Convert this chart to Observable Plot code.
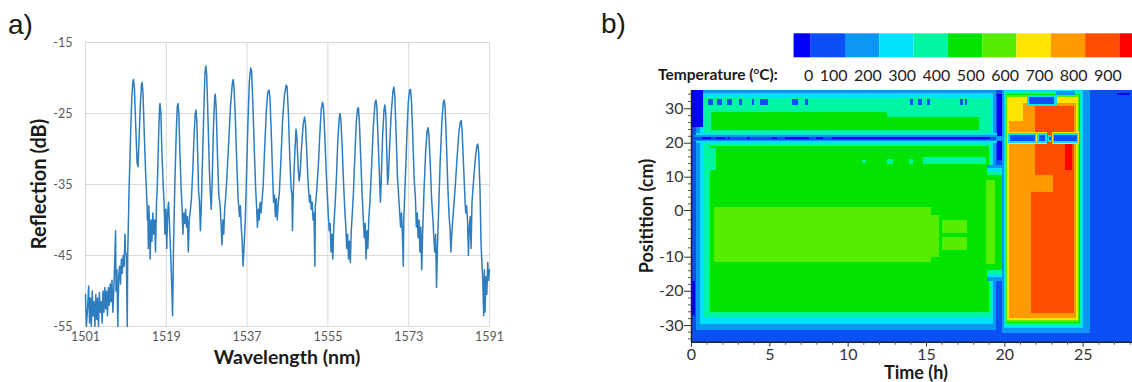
<!DOCTYPE html>
<html><head><meta charset="utf-8">
<script src="https://cdn.jsdelivr.net/npm/d3@7"></script>
<script src="https://cdn.jsdelivr.net/npm/@observablehq/plot@0.6"></script>
<style>
html,body{margin:0;padding:0;background:#fff;}
body{width:1132px;height:382px;overflow:hidden;position:relative;font-family:Lato,sans-serif;}
.abs{position:absolute;}
svg{max-width:none !important;}
</style></head><body>
<div id="pa" class="abs" style="left:0;top:0;width:520px;height:382px"></div>
<div id="pb" class="abs" style="left:580px;top:0;width:552px;height:382px;overflow:hidden"></div>
<div id="cb" class="abs" style="left:0;top:0;width:1132px;height:90px"></div>
<svg class="abs" style="left:0;top:0" width="1132" height="382">
  <g fill="#1a1a1a">
    <text x="8" y="34" font-family="Liberation Sans, Arial, sans-serif" font-size="28">a)</text>
    <text x="601" y="33" font-family="Liberation Sans, Arial, sans-serif" font-size="28">b)</text>
    <g font-family="Lato, sans-serif" font-weight="bold">
      <text transform="translate(46,184) rotate(-90)" text-anchor="middle" font-size="20">Reflection (dB)</text>
      <text x="287" y="364" text-anchor="middle" font-size="19.5">Wavelength (nm)</text>
      <text transform="translate(653,216) rotate(-90)" text-anchor="middle" font-size="18">Positition (cm)</text>
      <text x="916" y="379" text-anchor="middle" font-size="18">Time (h)</text>
      <text x="658" y="80" font-size="15.5">Temperature (<tspan font-size="10" dy="-6">o</tspan><tspan dy="6">C):</tspan></text>
    </g>
  </g>
</svg>
<script>
// ---------- panel a: reflection spectrum ----------
const wavelengthTicks = [1501, 1519, 1537, 1555, 1573, 1591];
const reflectionTicks = [-15, -25, -35, -45, -55];
const spectrum = [
[1501.0,-50.5],[1501.2,-55],[1501.5,-52],[1501.7,-49.3],[1501.9,-54.5],[1502.1,-51],[1502.3,-55],[1502.5,-50],[1502.7,-53.5],[1502.9,-51.5],
[1503.1,-55],[1503.3,-50.5],[1503.5,-54],[1503.7,-51],[1503.9,-55],[1504.1,-50.2],[1504.3,-53],[1504.5,-51.5],[1504.7,-54.5],[1504.9,-50],
[1505.1,-53],[1505.3,-49.5],[1505.5,-52.5],[1505.7,-50],[1505.9,-53.5],[1506.1,-49.5],[1506.3,-52],[1506.5,-49],[1506.7,-51.5],[1506.9,-48.5],
[1507.1,-53],[1507.3,-50],[1507.5,-46],[1507.7,-41.5],[1507.8,-50],[1508.0,-47],[1508.2,-55],[1508.4,-48],[1508.6,-46.5],[1508.8,-49],
[1509.0,-45.5],[1509.2,-47.5],[1509.4,-45],[1509.6,-46.5],[1509.8,-42],[1509.9,-44.5],[1510.1,-45],[1510.3,-55],[1510.4,-45],[1510.7,-36],
[1511.0,-29],[1511.3,-23],[1511.55,-20.5],[1511.7,-20.2],[1511.9,-21.5],[1512.2,-27],[1512.5,-32],[1512.7,-32.5],[1512.9,-29],[1513.2,-24],
[1513.45,-21],[1513.6,-20.6],[1513.8,-22],[1514.1,-28],[1514.4,-33.5],[1514.7,-37.5],[1514.8,-40],[1514.9,-39],[1515.0,-44],[1515.1,-38],
[1515.3,-41.5],[1515.4,-45.5],[1515.6,-40],[1515.8,-43],[1516.0,-39],[1516.2,-42],[1516.4,-40],[1516.6,-44.5],[1516.8,-38],[1517.0,-35],
[1517.3,-28],[1517.5,-24],[1517.6,-23.6],[1517.8,-25],[1518.0,-30],[1518.3,-35],[1518.5,-37.5],[1518.7,-42],[1518.9,-38.5],[1519.1,-44],
[1519.3,-39],[1519.5,-37.5],[1519.8,-42],[1520.1,-47],[1520.4,-53.5],[1520.6,-44],[1520.9,-35],[1521.2,-28],[1521.45,-24],[1521.6,-23.6],
[1521.8,-25],[1522.0,-30],[1522.3,-35.5],[1522.5,-38],[1522.7,-42],[1522.9,-39],[1523.1,-40.5],[1523.3,-38.5],[1523.5,-41],[1523.7,-39.5],
[1523.9,-44.5],[1524.1,-40],[1524.3,-39],[1524.6,-37],[1524.9,-33],[1525.2,-28],[1525.45,-25],[1525.6,-24.5],[1525.8,-26],[1526.0,-31],
[1526.2,-36],[1526.4,-37.5],[1526.6,-41.5],[1526.8,-38],[1527.0,-33],[1527.3,-26],[1527.6,-19.5],[1527.8,-18.3],[1528.0,-19.5],[1528.3,-26],
[1528.6,-33],[1528.8,-36],[1529.0,-38.5],[1529.2,-35],[1529.5,-27],[1529.8,-22.5],[1529.9,-22.3],[1530.1,-24],[1530.4,-31],[1530.7,-36.5],
[1531.0,-38],[1531.2,-40.5],[1531.4,-43.5],[1531.6,-40],[1531.8,-42],[1532.0,-38.5],[1532.2,-37],[1532.5,-34],[1532.9,-29],[1533.3,-24],
[1533.7,-20.8],[1533.9,-20.2],[1534.1,-21.5],[1534.4,-26],[1534.7,-32],[1535.0,-37],[1535.3,-39.5],[1535.5,-38],[1535.7,-41],[1535.9,-43],
[1536.1,-46.5],[1536.3,-44],[1536.6,-40],[1536.9,-33],[1537.2,-26],[1537.5,-20.5],[1537.8,-18.6],[1538.0,-19],[1538.3,-24],[1538.6,-30],
[1538.9,-35.5],[1539.1,-38],[1539.3,-41],[1539.5,-38.5],[1539.7,-40],[1539.9,-37.5],[1540.1,-39],[1540.3,-37.5],[1540.6,-35],[1540.9,-30],
[1541.3,-24.5],[1541.6,-22],[1541.9,-21.7],[1542.1,-23],[1542.4,-28],[1542.7,-34],[1542.9,-37.5],[1543.1,-36.5],[1543.3,-39.5],[1543.5,-37],
[1543.7,-40],[1543.9,-38],[1544.2,-36],[1544.5,-32],[1544.9,-26],[1545.3,-22.5],[1545.7,-21],[1545.9,-21.2],[1546.2,-25],[1546.5,-31],
[1546.8,-35.5],[1547.0,-36.5],[1547.1,-41.5],[1547.3,-36],[1547.6,-31],[1547.9,-27.2],[1548.1,-28.5],[1548.4,-33],[1548.6,-34.5],[1548.8,-33.5],
[1549.1,-30],[1549.5,-26.5],[1549.8,-25.5],[1550.0,-26.5],[1550.3,-30.5],[1550.6,-35],[1550.9,-37.5],[1551.1,-36.5],[1551.3,-38.5],[1551.5,-37.5],
[1551.7,-40],[1551.9,-39],[1552.1,-46.5],[1552.2,-38],[1552.5,-36],[1552.9,-32],[1553.2,-28],[1553.5,-24.5],[1553.8,-23.4],[1554.0,-24],
[1554.3,-28],[1554.6,-33],[1554.9,-37],[1555.1,-39.5],[1555.3,-41.5],[1555.5,-40.5],[1555.7,-44.5],[1555.9,-42],[1556.1,-45.5],[1556.3,-41],
[1556.6,-38],[1556.9,-34],[1557.2,-29],[1557.5,-25.8],[1557.7,-25],[1557.9,-26],[1558.2,-30],[1558.5,-35],[1558.8,-39],[1559.0,-41],
[1559.2,-44],[1559.4,-42],[1559.6,-45.5],[1559.8,-43],[1560.0,-46],[1560.2,-41.5],[1560.4,-39.5],[1560.7,-36],[1561.0,-31],[1561.3,-26.5],
[1561.6,-24.3],[1561.8,-24.2],[1562.0,-26],[1562.3,-31],[1562.6,-36],[1562.9,-40],[1563.1,-42.5],[1563.3,-40.5],[1563.5,-45.5],[1563.7,-41.5],
[1563.9,-44],[1564.1,-40],[1564.4,-37],[1564.7,-33],[1565.1,-27],[1565.5,-23.5],[1565.7,-23.1],[1565.9,-24],[1566.2,-29],[1566.5,-34],
[1566.7,-37.5],[1566.9,-34],[1567.2,-28],[1567.5,-24.5],[1567.7,-23.8],[1567.9,-25],[1568.1,-30],[1568.3,-35],[1568.5,-33.5],[1568.8,-29],
[1569.1,-25],[1569.5,-21.8],[1569.7,-21.3],[1569.9,-22.5],[1570.2,-28],[1570.5,-34],[1570.8,-37],[1571.0,-39],[1571.2,-41],[1571.4,-39],
[1571.6,-42],[1571.8,-46.5],[1571.9,-40],[1572.2,-35],[1572.6,-28],[1572.9,-23.5],[1573.2,-21.7],[1573.4,-21.6],[1573.6,-23],[1573.9,-28],
[1574.2,-34],[1574.5,-37],[1574.7,-41],[1574.9,-39],[1575.1,-42.5],[1575.3,-40],[1575.5,-44.5],[1575.7,-41],[1575.9,-47],[1576.1,-42],
[1576.4,-36],[1576.8,-30],[1577.1,-27.5],[1577.3,-27],[1577.5,-28],[1577.8,-32],[1578.1,-37],[1578.4,-40],[1578.6,-42.5],[1578.8,-44.5],
[1579.0,-42],[1579.2,-49.5],[1579.4,-44],[1579.7,-38],[1580.0,-32],[1580.4,-26],[1580.7,-23.5],[1580.9,-23.1],[1581.1,-24],[1581.4,-29],
[1581.7,-35],[1582.0,-39.5],[1582.2,-41],[1582.4,-44.5],[1582.6,-42],[1582.8,-40],[1583.0,-38.5],[1583.4,-35],[1583.8,-31],[1584.2,-27.5],
[1584.5,-26.2],[1584.7,-26],[1584.9,-27.5],[1585.2,-32],[1585.5,-36.5],[1585.7,-39],[1585.9,-38],[1586.1,-40],[1586.3,-45],[1586.5,-41],
[1586.7,-39.5],[1586.9,-44],[1587.1,-37.5],[1587.5,-34],[1587.9,-31],[1588.2,-29.5],[1588.4,-29.3],[1588.6,-30.5],[1588.9,-36],[1589.1,-43],
[1589.3,-46],[1589.5,-48.5],[1589.7,-53.5],[1589.85,-47],[1590.0,-53],[1590.2,-48],[1590.4,-50.5],[1590.6,-46],[1590.8,-48.5],[1591.0,-47]
];

// ---------- panel b: temperature map ----------
const timeTicks = [0, 5, 10, 15, 20, 25];
const timeMinorTicks = [1,2,3,4,6,7,8,9,11,12,13,14,16,17,18,19,21,22,23,24,26,27,28,29];
const positionTicks = [-30, -20, -10, 0, 10, 20, 30];
const positionMinorTicks = [-34,-32,-28,-26,-24,-22,-18,-16,-14,-12,-8,-6,-4,-2,2,4,6,8,12,14,16,18,22,24,26,28,32,34];
// the original position axis is unevenly spaced: where each labelled position sits on an even 70 cm frame
const positionAxisStops = [-35, -30, -20, -10, 0, 10, 20, 30, 35];
const positionAxisPlaces = [-35, -30.36, -20.82, -11.36, 1.63, 10.89, 20.34, 29.91, 35];
const tempThresholds = [0, 100, 200, 300, 400, 500, 600, 700, 800, 900];
const tempColors = ["#0000fa","#0a50f5","#0a96f2","#00e2ff","#00f5a0","#00e400","#55ee00","#ffe400","#ff9a00","#ff4e00","#ff0000"];
const tempLabels = [0, 100, 200, 300, 400, 500, 600, 700, 800, 900];
const bandLow  = [-50, 0, 100, 200, 300, 400, 500, 600, 700, 800, 900];
const bandHigh = [0, 100, 200, 300, 400, 500, 600, 700, 800, 900, 1000];

// zones: [time start (h), time end (h), position low (cm), position high (cm), temperature (°C)]
const backgroundZone = [[0, 30, -35, 35, 50]];
const run1Zones = [
 [0.3, 19.45, -31.5, 35, 150],
 [0.55, 19.3, -29.7, 34.1, 250],
 [0.85, 19.15, -27.8, 32.8, 350],
 [1.2, 19.0, -26.1, 19.0, 450],
 [1.3, 12.5, 23.8, 28.8, 450],
 [12.5, 18.4, 23.8, 27.5, 450]
];
const bridgeZones = [
 [18.9, 20.2, -17, 13.5, 150],
 [18.9, 20.15, -16, 12.5, 250],
 [18.9, 20.1, -15, 11.5, 350],
 [18.9, 20.05, -14, 10.5, 450],
 [18.8, 19.4, -12, 9, 550]
];
const run1Details = [
 [1.45, 15.3, -11.7, 0.9, 550],
 [15.3, 15.8, -10, -1, 550],
 [16.0, 17.6, -5.0, -2.1, 550],
 [16.0, 17.6, -8.6, -5.7, 550],
 [10.9, 11.2, 14, 15, 350],
 [12.5, 12.9, 13.8, 15.3, 350],
 [13.9, 14.2, 13.8, 15.2, 350],
 [14.8, 18.8, 13.6, 15.8, 350],
 [1.2, 1.6, 12, 18.5, 350],
 [0.3, 19.5, 19.9, 22.9, 250],
 [0.2, 19.6, 20.4, 22.3, 150],
 [0.1, 19.7, 20.8, 21.8, 50],
 [0.7, 1.3, 21.0, 21.6, -50],
 [1.6, 2.2, 21.0, 21.6, -50],
 [2.35, 2.5, 21.0, 21.6, -50],
 [3.6, 3.75, 21.0, 21.6, -50],
 [5.2, 5.5, 21.0, 21.6, -50],
 [6.0, 7.5, 21.0, 21.6, -50],
 [8.0, 8.4, 21.0, 21.6, -50],
 [9.0, 19.1, 21.0, 21.6, -50],
 [1.1, 1.43, 31, 32.5, 50],
 [1.68, 1.96, 31, 32.5, 50],
 [2.28, 2.6, 31, 32.5, 50],
 [3.08, 3.24, 31, 32.5, 50],
 [3.87, 4.02, 31, 32.5, 50],
 [4.4, 4.93, 31, 32.5, 50],
 [6.43, 6.85, 31, 32.5, 50],
 [7.28, 7.49, 31, 32.5, 50],
 [13.98, 14.19, 31, 32.5, 50],
 [14.5, 14.72, 31, 32.5, 50],
 [15.04, 15.25, 31, 32.5, 50],
 [17.17, 17.38, 31, 32.5, 50],
 [17.5, 17.6, 31, 32.5, 50],
 [0, 0.75, 24.5, 35, -50],
 [0, 0.25, -27, -17, -50],
 [19.5, 19.85, 15, 34, -50],
 [19.45, 20.3, 20.6, 22.0, 150]
];
const run2Zones = [
 [19.85, 25.45, -32.5, 35, 150],
 [19.95, 25.0, -30.8, 35, 250],
 [20.02, 24.88, -29.9, 34.5, 350],
 [20.08, 24.8, -29.4, 34.0, 450],
 [20.13, 24.74, -29.0, 33.5, 550],
 [20.18, 24.68, -28.5, 33.0, 650],
 [20.3, 24.6, -28.0, 26.3, 750],
 [21.2, 24.6, -28.0, 31.5, 750],
 [21.7, 24.45, -26.6, 30.5, 850],
 [21.7, 23.1, 5.4, 10.5, 750],
 [21.7, 21.95, 10.5, 30.5, 750],
 [23.85, 24.3, 12, 20, 950],
 [21.45, 23.35, 30.8, 33.6, 250],
 [21.6, 23.2, 31.3, 33.1, 50],
 [23.3, 24.5, 33.6, 34.6, 150],
 [20.2, 22.1, 19.5, 23.1, 650],
 [22.05, 22.75, 19.5, 23.1, 650],
 [23.05, 24.75, 19.5, 23.1, 650],
 [20.25, 22.05, 19.9, 22.7, 250],
 [22.1, 22.7, 19.9, 22.7, 250],
 [22.8, 23.0, 20.3, 22.3, 250],
 [23.1, 24.72, 19.9, 22.7, 250],
 [20.35, 21.95, 20.5, 22.1, 50],
 [22.2, 22.6, 20.5, 22.1, 50],
 [22.87, 22.95, 20.9, 21.7, 50],
 [23.2, 24.65, 20.5, 22.1, 50],
 [27.2, 28.0, 33.6, 34.2, -50]
];
const zones = [...backgroundZone, ...run1Zones, ...bridgeZones, ...run1Details, ...run2Zones];

const colorScale = {type: "threshold", domain: tempThresholds, range: tempColors};

// panel a
const plotA = Plot.plot({
  width: 520, height: 382,
  marginLeft: 85, marginRight: 31, marginTop: 42, marginBottom: 56,
  x: {domain: [1501, 1591]},
  y: {domain: [-55, -15]},
  style: {fontFamily: "Lato, sans-serif", fontSize: "12.5px", color: "#595959", background: "transparent"},
  marks: [
    Plot.gridX(wavelengthTicks, {stroke: "#d9d9d9", strokeOpacity: 1}),
    Plot.gridY(reflectionTicks, {stroke: "#d9d9d9", strokeOpacity: 1}),
    Plot.frame({stroke: "#d9d9d9"}),
    Plot.line(spectrum, {x: d => d[0], y: d => d[1], stroke: "#2e7dbf", strokeWidth: 1.5}),
    Plot.axisX(wavelengthTicks, {tickSize: 0, tickPadding: 6, label: null, tickFormat: d => String(d)}),
    Plot.axisY(reflectionTicks, {tickSize: 0, tickPadding: 13, label: null, tickFormat: d => String(d)})
  ]
});
document.getElementById("pa").appendChild(plotA);

// panel b
const positionWarp = d3.scaleLinear().domain(positionAxisStops).range(positionAxisPlaces);
const plotB = Plot.plot({
  width: 581, height: 382,
  marginLeft: 111, marginRight: 0, marginTop: 90, marginBottom: 40.3,
  x: {domain: [0, 30]},
  y: {domain: [-35, 35], transform: positionWarp},
  color: colorScale,
  style: {fontFamily: "Lato, sans-serif", fontSize: "16px", color: "#333", background: "transparent"},
  marks: [
    Plot.rect(zones, {x1: d => d[0], x2: d => d[1], y1: d => d[2], y2: d => d[3], fill: d => d[4], shapeRendering: "crispEdges"}),
    Plot.ruleX([0], {stroke: "#222", strokeWidth: 1.5}),
    Plot.ruleY([-35], {stroke: "#222", strokeWidth: 1.5}),
    Plot.axisY(positionTicks, {tickSize: 7, tickPadding: 1, label: null, stroke: "#333", tickFormat: d => String(d)}),
    Plot.axisY(positionMinorTicks, {tickSize: 3, text: null, label: null, stroke: "#555"}),
    Plot.axisX(timeTicks, {tickSize: 5, tickPadding: 1, label: null, stroke: "#333", tickFormat: d => String(d)}),
    Plot.axisX(timeMinorTicks, {tickSize: 3, text: null, label: null, stroke: "#555"})
  ]
});
document.getElementById("pb").appendChild(plotB);

// colour bar
const bands = bandLow.map((lo, i) => ({lo, hi: bandHigh[i], t: (lo + bandHigh[i]) / 2}));
const plotC = Plot.plot({
  width: 1132, height: 90,
  marginLeft: 0, marginRight: 0, marginTop: 33.3, marginBottom: 32.7,
  x: {domain: [0, 900], range: [810.7, 1119.4], axis: null},
  color: colorScale,
  style: {fontFamily: "Lato, sans-serif", fontSize: "16px", color: "#222", background: "transparent"},
  marks: [
    Plot.rect(bands, {x1: "lo", x2: "hi", fill: "t"}),
    Plot.text(tempLabels, {x: d => d, text: d => String(d), frameAnchor: "bottom", lineAnchor: "middle", dy: 17.7, dx: 2, textAnchor: "end", fill: "#222"})
  ]
});
document.getElementById("cb").appendChild(plotC);
</script>
</body></html>
